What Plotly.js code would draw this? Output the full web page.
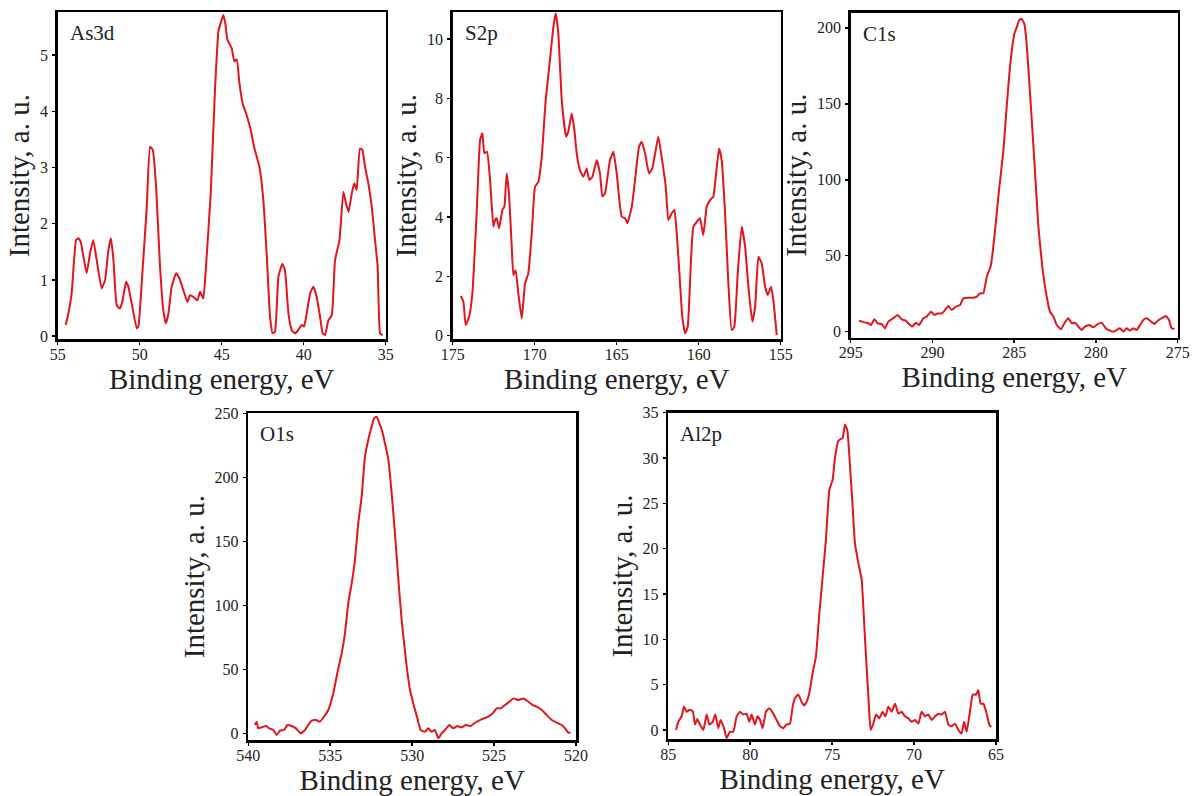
<!DOCTYPE html>
<html><head><meta charset="utf-8">
<script src="https://cdn.plot.ly/plotly-3.0.1.min.js"></script>
<style>body{margin:0;background:#fff}#chart{width:1192px;height:796px}</style>
</head><body><div id="chart"></div>
<script>
// ---- As3d ----
const as3dX = [54.51,54.35,54.15,53.88,53.74,53.6,53.43,53.23,53.03,52.83,52.62,52.32,52.11,51.91,51.75,51.6,51.4,51.2,51.04,50.83,50.69,50.49,50.18,50.08,49.88,49.57,49.37,49.2,49.0,48.76,48.56,48.41,48.25,48.05,47.78,47.58,47.34,47.09,46.93,46.73,46.48,46.32,46.12,45.96,45.67,45.41,45.2,45.04,44.9,44.78,44.65,44.39,44.23,44.08,43.92,43.72,43.48,43.23,43.03,42.7,42.46,42.26,42.05,41.89,41.75,41.54,41.3,41.14,40.93,40.73,40.53,40.33,40.12,39.98,39.82,39.61,39.41,39.21,39.0,38.84,38.7,38.5,38.29,38.09,37.82,37.58,37.42,37.26,37.07,36.91,36.77,36.57,36.42,36.26,36.06,35.85,35.65,35.49,35.34,35.18];
const as3dY = [0.2,0.4,0.76,1.71,1.74,1.68,1.41,1.12,1.47,1.71,1.35,0.85,1.0,1.53,1.74,1.35,0.55,0.49,0.64,0.97,0.88,0.58,0.14,0.17,0.94,2.3,3.37,3.31,2.66,1.23,0.46,0.23,0.4,0.88,1.12,1.03,0.82,0.61,0.73,0.7,0.64,0.79,0.67,1.23,2.54,4.38,5.42,5.59,5.71,5.56,5.27,5.12,4.89,4.92,4.5,4.14,3.93,3.67,3.37,3.01,2.42,1.47,0.34,0.05,0.08,1.06,1.29,1.17,0.4,0.11,0.05,0.11,0.2,0.17,0.4,0.76,0.88,0.7,0.34,0.05,0.02,0.28,0.37,1.35,1.71,2.57,2.36,2.21,2.54,2.72,2.6,3.34,3.31,3.01,2.72,2.3,1.71,1.23,0.05,0.02];
// ---- S2p ----
const s2pX = [174.51,174.35,174.21,174.0,173.8,173.54,173.33,173.19,173.07,172.91,172.72,172.52,172.42,172.32,172.17,171.97,171.85,171.71,171.57,171.4,171.3,171.16,171.0,170.79,170.59,170.39,170.18,169.98,169.78,169.57,169.33,169.07,168.86,168.72,168.56,168.35,168.09,167.95,167.74,167.58,167.44,167.24,167.03,166.83,166.67,166.48,166.22,166.02,165.87,165.71,165.41,165.2,165.0,164.69,164.49,164.35,164.08,163.88,163.64,163.48,163.27,163.03,162.83,162.62,162.46,162.26,162.01,161.85,161.65,161.48,161.34,161.2,161.0,160.83,160.67,160.47,160.33,160.12,159.92,159.72,159.51,159.31,159.11,158.96,158.76,158.6,158.39,158.19,157.99,157.83,157.62,157.38,157.17,156.97,156.73,156.56,156.36,156.16,155.95,155.79,155.59,155.45,155.24];
const s2pY = [1.34,1.15,0.36,0.64,1.43,4.12,6.6,6.82,6.15,6.2,5.25,3.67,3.9,3.96,3.62,4.24,4.35,5.47,4.8,3.0,2.04,2.21,1.43,0.58,1.76,2.1,3.45,5.02,5.19,6.03,7.94,9.29,10.42,10.87,10.19,7.94,6.71,6.88,7.49,6.93,6.15,5.58,5.36,5.64,5.25,5.36,5.92,5.47,4.69,4.8,5.92,6.2,5.47,4.01,3.96,3.79,4.35,5.25,6.37,6.54,6.15,5.47,5.64,6.26,6.71,6.03,5.02,3.9,4.12,4.24,3.45,2.33,0.64,0.08,0.3,2.55,3.67,3.84,3.96,3.39,4.35,4.57,4.69,5.36,6.31,5.92,4.12,1.76,0.19,0.3,2.1,3.67,3.0,1.65,0.47,0.98,2.66,2.44,1.65,1.37,1.65,1.2,0.02];
// ---- C1s ----
const c1sX = [294.49,294.29,294.08,293.92,293.76,293.55,293.35,293.1,292.9,292.7,292.39,292.13,291.88,291.64,291.43,291.23,291.02,290.82,290.56,290.35,290.09,289.88,289.68,289.43,289.23,289.03,288.82,288.58,288.31,288.11,287.8,287.5,287.29,287.09,286.89,286.68,286.42,286.17,285.93,285.66,285.46,285.26,284.99,284.81,284.69,284.54,284.38,284.24,284.03,283.77,283.52,283.28,283.01,282.81,282.6,282.4,282.14,281.93,281.69,281.48,281.28,281.08,280.87,280.67,280.42,280.16,279.89,279.65,279.4,279.14,278.93,278.73,278.53,278.32,278.12,277.92,277.71,277.51,277.3,277.1,276.9,276.69,276.43,276.22,275.98,275.73,275.53,275.37,275.2];
const c1sY = [7.2,6.6,5.9,5.5,4.4,8.1,5.5,5.0,2.2,6.6,8.8,11.0,8.1,7.2,5.0,3.3,5.9,4.4,8.8,9.9,13.1,11.0,12.0,12.0,14.2,16.9,14.2,16.4,17.5,21.9,22.3,22.3,23.0,25.2,25.2,36.1,43.8,66.8,93.1,119.4,147.9,174.2,196.1,201.5,205.3,205.9,202.6,189.5,156.6,112.8,69.0,42.7,23.0,13.1,9.9,4.4,1.5,5.5,8.8,5.5,5.9,3.3,1.1,3.3,4.4,2.8,5.0,5.9,2.2,0.7,0.0,1.1,2.2,0.0,2.2,0.7,2.2,1.1,4.4,7.7,8.8,7.2,5.0,7.2,8.8,10.3,7.7,2.2,1.8];
// ---- O1s ----
const o1sX = [539.59,539.49,539.39,539.19,538.92,538.72,538.47,538.27,538.07,537.82,537.62,537.36,537.09,536.81,536.54,536.34,536.13,535.87,535.63,535.38,535.12,534.81,534.57,534.3,534.1,533.9,533.69,533.49,533.29,533.08,532.88,532.68,532.47,532.33,532.17,532.0,531.86,531.66,531.45,531.25,531.05,530.84,530.64,530.38,530.13,529.93,529.68,529.48,529.22,529.01,528.81,528.61,528.4,528.2,528.0,527.73,527.49,527.24,526.98,526.71,526.43,526.16,525.86,525.62,525.35,525.09,524.84,524.6,524.33,524.07,523.82,523.52,523.21,522.91,522.64,522.4,522.09,521.79,521.48,521.18,520.87,520.67,520.47,520.33];
const o1sY = [6.5,9.1,3.9,4.7,5.7,3.9,2.6,-1.3,2.1,2.6,6.5,5.7,3.9,0.0,2.6,6.5,9.9,10.4,9.1,13.0,18.2,31.3,46.9,62.5,78.1,101.6,117.2,135.4,164.1,184.9,216.1,229.2,239.6,246.1,247.4,242.2,237.5,226.6,213.5,187.5,156.3,119.8,88.5,57.3,33.9,23.4,11.7,2.6,1.3,3.9,1.3,2.6,-3.9,0.0,2.6,6.5,3.9,5.7,4.7,6.5,5.7,8.3,10.4,11.7,13.0,15.6,19.5,19.5,22.1,24.7,27.3,26.0,27.3,24.7,22.1,20.8,18.2,14.3,10.4,8.3,6.5,3.9,0.5,0.5];
// ---- Al2p ----
const al2pX = [84.53,84.39,84.19,84.04,83.88,83.72,83.51,83.37,83.23,83.07,82.86,82.66,82.5,82.29,82.13,81.95,81.81,81.6,81.44,81.24,81.03,80.83,80.63,80.42,80.22,80.06,79.91,79.71,79.57,79.4,79.24,79.04,78.84,78.59,78.39,78.18,77.98,77.78,77.57,77.41,77.27,77.07,76.86,76.72,76.56,76.39,76.19,75.99,75.78,75.58,75.38,75.17,74.97,74.83,74.62,74.48,74.36,74.22,74.07,73.91,73.75,73.61,73.4,73.2,72.99,72.79,72.65,72.49,72.32,72.12,71.92,71.75,71.57,71.37,71.16,70.96,70.76,70.55,70.35,70.15,69.94,69.74,69.54,69.33,69.13,68.93,68.72,68.52,68.32,68.11,67.91,67.71,67.5,67.3,67.1,66.95,66.79,66.59,66.42,66.22,66.08,65.94,65.77,65.57,65.41,65.3];
const al2pY = [0.0,0.9,1.5,2.6,2.0,2.2,2.1,0.6,1.2,0.6,0.0,1.7,0.6,0.9,1.7,0.2,1.1,0.2,-0.9,-0.2,-0.2,1.5,2.0,1.7,1.8,0.9,1.7,0.6,1.5,1.1,0.2,2.0,2.4,1.8,1.1,0.4,0.2,0.6,0.7,2.6,3.5,3.9,3.1,2.7,3.1,4.1,6.3,8.1,12.9,16.9,21.0,26.5,27.6,30.0,31.9,32.1,32.2,33.7,33.0,29.1,24.7,20.6,18.4,16.6,9.9,3.7,0.0,0.7,1.7,1.3,2.0,1.5,2.6,2.0,2.9,1.8,2.0,1.5,1.3,0.9,1.1,0.7,2.0,1.5,1.7,1.1,1.5,1.8,1.7,2.0,0.6,0.4,0.7,0.0,-0.4,0.9,-0.2,2.0,3.9,3.9,4.4,2.9,2.9,1.8,0.6,0.3];

const panelNames = ['As3d','S2p','C1s','O1s','Al2p'];
const xRanges = [[55,35],[175,155],[295,275],[540,520],[85,65]];
const yRanges = [[-0.05,5.76],[-0.11,10.9],[-4,210],[-5.2,250],[-1.03,35]];
const yDtick = [1,2,50,50,5];
const seriesX = [as3dX,s2pX,c1sX,o1sX,al2pX];
const seriesY = [as3dY,s2pY,c1sY,o1sY,al2pY];

const W = 1192, H = 796;
// pixel boxes [left,right,top,bottom]
const boxes = [[57.7,385.7,12.3,339],[452.7,780.7,12.3,339],[850.7,1177.7,12.7,337.7],[248.3,576,413.3,740],[668.3,996,412.7,739.3]];

const FONT = 'Liberation Serif, Times New Roman, serif';
const TXT = '#222';
const RED = '#e2141c';

const data = [];
const layout = {width:W,height:H,margin:{l:0,r:0,t:0,b:0},paper_bgcolor:'#fff',plot_bgcolor:'#fff',showlegend:false,annotations:[]};
for (let i=0;i<5;i++){
  const n = i===0?'':String(i+1);
  data.push({x:seriesX[i],y:seriesY[i],type:'scatter',mode:'lines',xaxis:'x'+n,yaxis:'y'+n,line:{color:RED,width:2,shape:'spline',smoothing:0.4},hoverinfo:'skip'});
  const b = boxes[i];
  const common = {showline:true,linecolor:'#000',linewidth:2.5,mirror:true,ticks:'outside',ticklen:3,tickwidth:1.5,tickcolor:'#000',showgrid:false,zeroline:false,tickfont:{family:FONT,size:16,color:TXT}};
  layout['xaxis'+n] = Object.assign({},common,{domain:[b[0]/W,b[1]/W],range:xRanges[i],dtick:5,tick0:0,anchor:'y'+n,ticklabelstandoff:-4,
    title:{text:'Binding energy, eV',font:{family:FONT,size:29,color:TXT},standoff:2}});
  layout['yaxis'+n] = Object.assign({},common,{domain:[1-b[3]/H,1-b[2]/H],range:yRanges[i],dtick:yDtick[i],tick0:0,anchor:'x'+n,ticklabelstandoff:1,
    title:{text:'Intensity, a. u.',font:{family:FONT,size:29,color:TXT},standoff:2}});
  layout.annotations.push({text:panelNames[i],xref:'paper',yref:'paper',x:(b[0]+10)/W,y:1-(b[2]+21)/H,xanchor:'left',yanchor:'middle',showarrow:false,font:{family:FONT,size:21,color:TXT}});
}
Plotly.newPlot('chart',data,layout,{staticPlot:true});
</script></body></html>
